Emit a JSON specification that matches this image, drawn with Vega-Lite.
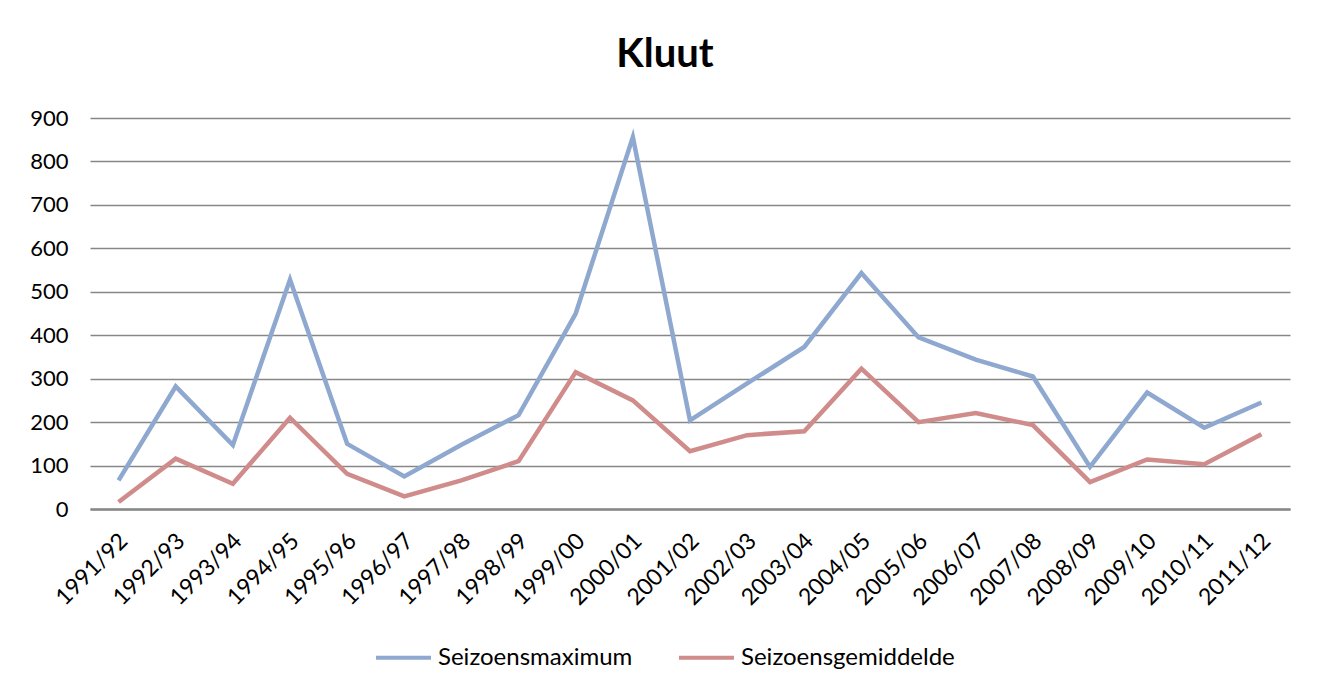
{
  "$schema": "https://vega.github.io/schema/vega-lite/v6.json",
  "width": 1200,
  "height": 391,
  "padding": {"left": 90, "top": 118, "right": 35, "bottom": 182},
  "autosize": {"type": "none"},
  "background": "white",
  "title": {"text": "Kluut", "fontSize": 40, "font": "Lato", "fontWeight": "bold", "color": "#000000", "anchor": "middle", "dx": -25, "offset": 32},
  "data": {"values": [
    {"season": "1991/92", "series": "Seizoensmaximum", "value": 66},
    {"season": "1992/93", "series": "Seizoensmaximum", "value": 282},
    {"season": "1993/94", "series": "Seizoensmaximum", "value": 147},
    {"season": "1994/95", "series": "Seizoensmaximum", "value": 528},
    {"season": "1995/96", "series": "Seizoensmaximum", "value": 150},
    {"season": "1996/97", "series": "Seizoensmaximum", "value": 75},
    {"season": "1997/98", "series": "Seizoensmaximum", "value": 148},
    {"season": "1998/99", "series": "Seizoensmaximum", "value": 216},
    {"season": "1999/00", "series": "Seizoensmaximum", "value": 450},
    {"season": "2000/01", "series": "Seizoensmaximum", "value": 856},
    {"season": "2001/02", "series": "Seizoensmaximum", "value": 204},
    {"season": "2002/03", "series": "Seizoensmaximum", "value": 289},
    {"season": "2003/04", "series": "Seizoensmaximum", "value": 373},
    {"season": "2004/05", "series": "Seizoensmaximum", "value": 543},
    {"season": "2005/06", "series": "Seizoensmaximum", "value": 395},
    {"season": "2006/07", "series": "Seizoensmaximum", "value": 344},
    {"season": "2007/08", "series": "Seizoensmaximum", "value": 305},
    {"season": "2008/09", "series": "Seizoensmaximum", "value": 97},
    {"season": "2009/10", "series": "Seizoensmaximum", "value": 268},
    {"season": "2010/11", "series": "Seizoensmaximum", "value": 187},
    {"season": "2011/12", "series": "Seizoensmaximum", "value": 245},
    {"season": "1991/92", "series": "Seizoensgemiddelde", "value": 16},
    {"season": "1992/93", "series": "Seizoensgemiddelde", "value": 116},
    {"season": "1993/94", "series": "Seizoensgemiddelde", "value": 58},
    {"season": "1994/95", "series": "Seizoensgemiddelde", "value": 210},
    {"season": "1995/96", "series": "Seizoensgemiddelde", "value": 81},
    {"season": "1996/97", "series": "Seizoensgemiddelde", "value": 29},
    {"season": "1997/98", "series": "Seizoensgemiddelde", "value": 66},
    {"season": "1998/99", "series": "Seizoensgemiddelde", "value": 110},
    {"season": "1999/00", "series": "Seizoensgemiddelde", "value": 315},
    {"season": "2000/01", "series": "Seizoensgemiddelde", "value": 250},
    {"season": "2001/02", "series": "Seizoensgemiddelde", "value": 133},
    {"season": "2002/03", "series": "Seizoensgemiddelde", "value": 170},
    {"season": "2003/04", "series": "Seizoensgemiddelde", "value": 179},
    {"season": "2004/05", "series": "Seizoensgemiddelde", "value": 323},
    {"season": "2005/06", "series": "Seizoensgemiddelde", "value": 200},
    {"season": "2006/07", "series": "Seizoensgemiddelde", "value": 221},
    {"season": "2007/08", "series": "Seizoensgemiddelde", "value": 193},
    {"season": "2008/09", "series": "Seizoensgemiddelde", "value": 62},
    {"season": "2009/10", "series": "Seizoensgemiddelde", "value": 114},
    {"season": "2010/11", "series": "Seizoensgemiddelde", "value": 103},
    {"season": "2011/12", "series": "Seizoensgemiddelde", "value": 172}
  ]},
  "mark": {"type": "line", "strokeWidth": 4.5, "strokeJoin": "miter"},
  "encoding": {
    "x": {
      "field": "season", "type": "ordinal",
      "scale": {"type": "point", "padding": 0.5},
      "axis": {
        "title": null, "labelAngle": -45, "labelAlign": "right", "labelBaseline": "middle",
        "labelFontSize": 23, "labelFont": "Lato", "labelColor": "#000000",
        "ticks": false, "labelPadding": 28, "labelOffset": 5, "grid": false,
        "domainColor": "#878787", "domainWidth": 2.5
      }
    },
    "y": {
      "field": "value", "type": "quantitative",
      "scale": {"domain": [0, 900], "nice": false},
      "axis": {
        "title": null, "values": [0, 100, 200, 300, 400, 500, 600, 700, 800, 900],
        "labelFontSize": 22, "labelFont": "Lato", "labelColor": "#000000",
        "ticks": false, "domain": false, "labelPadding": 22,
        "gridColor": "#878787", "gridWidth": 1.3, "gridOpacity": 1
      }
    },
    "color": {
      "field": "series", "type": "nominal",
      "sort": ["Seizoensmaximum", "Seizoensgemiddelde"],
      "scale": {"domain": ["Seizoensmaximum", "Seizoensgemiddelde"], "range": ["#8EA8D0", "#D08B8B"]},
      "legend": {
        "title": null, "orient": "none", "legendX": 284, "legendY": 510, "direction": "horizontal",
        "symbolType": "stroke", "symbolSize": 3025, "symbolStrokeWidth": 4,
        "labelFontSize": 24, "labelFont": "Lato", "labelColor": "#000000", "labelLimit": 400,
        "columnPadding": 38, "labelOffset": 5
      }
    }
  },
  "config": {"view": {"stroke": null}}
}
